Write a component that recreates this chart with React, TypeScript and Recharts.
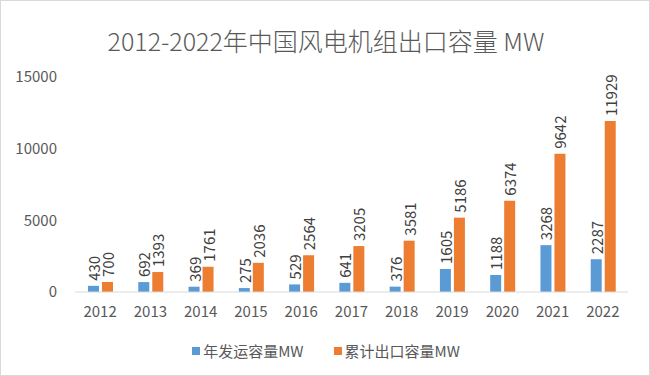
import React from "react";
import { BarChart, Bar, XAxis, YAxis, LabelList } from "recharts";

const years = ["2012", "2013", "2014", "2015", "2016", "2017", "2018", "2019", "2020", "2021", "2022"];
const annualShipped = [430, 692, 369, 275, 529, 641, 376, 1605, 1188, 3268, 2287];
const cumulativeExport = [700, 1393, 1761, 2036, 2564, 3205, 3581, 5186, 6374, 9642, 11929];
const yTicks = [0, 5000, 10000, 15000];

const BLUE = "#5B9BD5";
const ORANGE = "#ED7D31";
const FONT = '"Noto Sans CJK SC", "Noto Sans", sans-serif';

const data = years.map((y, i) => ({
  year: y,
  annual: annualShipped[i],
  total: cumulativeExport[i],
}));

const VLabel = (props: any) => {
  const { x, y, width, value } = props;
  const cx = x + width / 2;
  const cy = y - 5;
  return (
    <text
      x={cx}
      y={cy}
      transform={`rotate(-90 ${cx} ${cy})`}
      textAnchor="start"
      dominantBaseline="central"
      fill="#404040"
      fontSize={15}
      fontFamily={FONT}
    >
      {value}
    </text>
  );
};

export default function App() {
  return (
    <div
      style={{
        position: "absolute",
        left: 0,
        top: 0,
        width: 650,
        height: 376,
        boxSizing: "border-box",
        border: "1px solid #D9D9D9",
        background: "#fff",
        fontFamily: FONT,
      }}
    >
      <div
        style={{
          position: "absolute",
          top: 21,
          left: 0,
          width: 650,
          textAlign: "center",
          fontSize: 25,
          fontWeight: 300,
          color: "#595959",
        }}
      >
        2012-2022年中国风电机组出口容量 MW
      </div>
      <div style={{ position: "absolute", left: -1, top: -1 }}>
        <BarChart
          width={650}
          height={376}
          data={data}
          margin={{ top: 77, right: 22, left: 15, bottom: 54 }}
          barSize={11}
          barGap={3}
        >
          <XAxis
            dataKey="year"
            axisLine={{ stroke: "#D9D9D9" }}
            tickLine={false}
            tickMargin={8}
            tick={{ fill: "#595959", fontSize: 15, fontFamily: FONT }}
          />
          <YAxis
            width={60}
            domain={[0, 15000]}
            ticks={yTicks}
            axisLine={false}
            tickLine={false}
            tickMargin={12}
            tick={{ fill: "#595959", fontSize: 15, fontFamily: FONT }}
          />
          <Bar dataKey="annual" fill={BLUE} isAnimationActive={false}>
            <LabelList dataKey="annual" content={VLabel} />
          </Bar>
          <Bar dataKey="total" fill={ORANGE} isAnimationActive={false}>
            <LabelList dataKey="total" content={VLabel} />
          </Bar>
        </BarChart>
      </div>
      <div
        style={{
          position: "absolute",
          top: 339,
          left: 0,
          width: 650,
          display: "flex",
          justifyContent: "center",
          gap: 30,
          fontSize: 15,
          color: "#595959",
        }}
      >
        <span style={{ display: "flex", alignItems: "center" }}>
          <span style={{ width: 8, height: 8, background: BLUE, marginRight: 3 }} />
          年发运容量MW
        </span>
        <span style={{ display: "flex", alignItems: "center" }}>
          <span style={{ width: 8, height: 8, background: ORANGE, marginRight: 3 }} />
          累计出口容量MW
        </span>
      </div>
    </div>
  );
}
